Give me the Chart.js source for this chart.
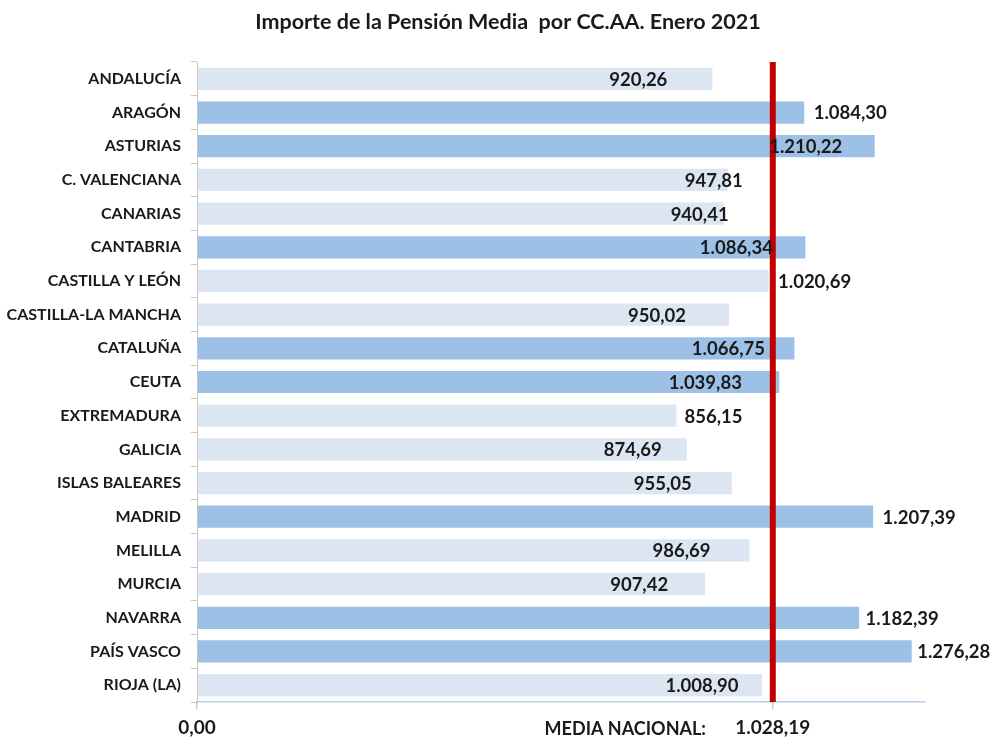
<!DOCTYPE html>
<html><head><meta charset="utf-8">
<script src="https://cdn.jsdelivr.net/npm/chart.js@4/dist/chart.umd.min.js"></script>
<style>html,body{margin:0;padding:0;background:#fff}#wrap{width:991px;height:738px;position:relative}</style>
</head><body><div id="wrap"><canvas id="c"></canvas></div>
<script>
const categories = ['ANDALUCÍA','ARAGÓN','ASTURIAS','C. VALENCIANA','CANARIAS','CANTABRIA','CASTILLA Y LEÓN','CASTILLA-LA MANCHA','CATALUÑA','CEUTA','EXTREMADURA','GALICIA','ISLAS BALEARES','MADRID','MELILLA','MURCIA','NAVARRA','PAÍS VASCO','RIOJA (LA)'];
const pensionMedia = [920.26,1084.30,1210.22,947.81,940.41,1086.34,1020.69,950.02,1066.75,1039.83,856.15,874.69,955.05,1207.39,986.69,907.42,1182.39,1276.28,1008.90];
const mediaNacional = 1028.19;
const xTickValues = [0, mediaNacional];
const titleText = 'Importe de la Pensión Media  por CC.AA. Enero 2021';
const mediaLabel = 'MEDIA NACIONAL:';

// label placement (style): horizontal offset of label centre from bar end, px
const labelDx = [-74,46,-69,-14,-24,-69,46,-72,-66,-74,37,-54,-69,46,-68,-66,43,42,-60];

const FONT = 'Lato';
const LIGHT = '#dce6f2', DARK = '#9dc0e7', RED = '#c00000', TXT = '#1a1a1a';

function fmt(v){
  const neg = v < 0; v = Math.abs(v);
  const parts = v.toFixed(2).split('.');
  const int = parts[0].replace(/\B(?=(\d{3})+(?!\d))/g, '.');
  return (neg?'-':'') + int + ',' + parts[1];
}

const overlay = {
  id: 'overlay',
  afterDatasetsDraw(chart){
    const {ctx, chartArea, scales} = chart;
    const x = scales.x.getPixelForValue(mediaNacional);
    ctx.save();
    ctx.fillStyle = RED;
    ctx.fillRect(x - 3, chartArea.top, 6, chartArea.bottom - chartArea.top);
    const meta = chart.getDatasetMeta(0);
    ctx.font = 'bold 18.5px ' + FONT;
    ctx.fillStyle = TXT;
    ctx.textAlign = 'center';
    ctx.textBaseline = 'middle';
    meta.data.forEach((bar, i) => {
      ctx.fillText(fmt(pensionMedia[i]), bar.x + labelDx[i], bar.y + 1);
    });
    ctx.restore();
  },
  afterDraw(chart){
    const {ctx} = chart;
    ctx.save();
    ctx.font = 'bold 21.5px ' + FONT;
    ctx.fillStyle = TXT;
    ctx.textAlign = 'center';
    ctx.textBaseline = 'middle';
    ctx.fillText(titleText, 508, 22);
    ctx.font = 'bold 18px ' + FONT;
    ctx.textAlign = 'right';
    ctx.fillText(mediaLabel, 706, 729);
    ctx.restore();
  }
};

new Chart(document.getElementById('c'), {
  type: 'bar',
  data: {
    labels: categories,
    datasets: [{
      data: pensionMedia,
      backgroundColor: pensionMedia.map(v => v > mediaNacional ? DARK : LIGHT),
      barPercentage: 0.66,
      categoryPercentage: 1
    }]
  },
  options: {
    indexAxis: 'y',
    responsive: true,
    maintainAspectRatio: false,
    animation: false,
    layout: { padding: { top: 62, right: 66, left: 0, bottom: 0 } },
    plugins: { legend: { display: false }, tooltip: { enabled: false }, title: { display: false } },
    scales: {
      x: {
        type: 'linear', min: 0, max: 1300,
        afterBuildTicks: s => { s.ticks = xTickValues.map(v => ({ value: v })); },
        afterFit: s => { s.height = 36; },
        ticks: { callback: v => fmt(v), font: { family: FONT, weight: 'bold', size: 19 }, color: TXT, padding: 7, maxRotation: 0, autoSkip: false },
        grid: { drawOnChartArea: false, drawTicks: true, tickLength: 7, color: '#b8cce4', lineWidth: 1.5 },
        border: { display: true, color: '#b8cce4', width: 1.5 }
      },
      y: {
        afterFit: s => { s.width = 197; },
        ticks: { font: { family: FONT, weight: 'bold', size: 16 }, color: TXT, padding: 10, autoSkip: false },
        grid: { drawOnChartArea: false, drawTicks: true, tickLength: 6, color: '#c8c8c8', offset: true },
        border: { display: true, color: '#c8c8c8', width: 1 }
      }
    }
  },
  plugins: [overlay]
});
</script></body></html>
